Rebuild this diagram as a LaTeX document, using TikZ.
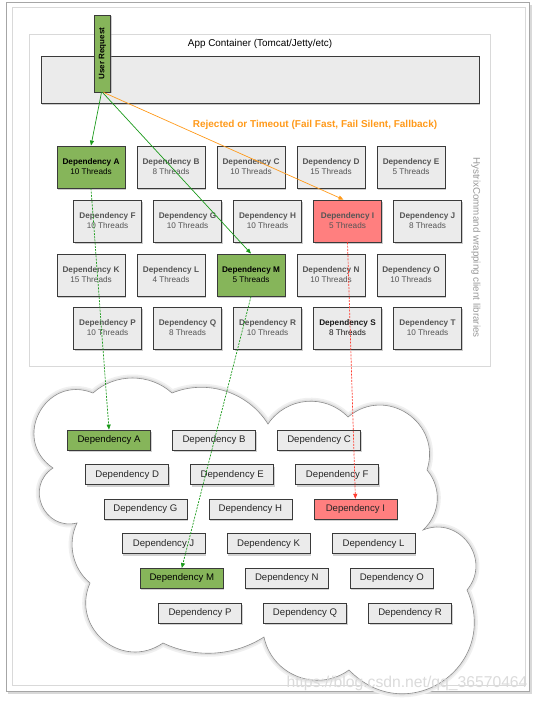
\documentclass[tikz,border=0pt]{standalone}
\usepackage{fontspec}
\setmainfont{Liberation Sans}
\usetikzlibrary{arrows.meta,shadows,calc}
\definecolor{boxgray}{HTML}{EBEBEB}
\definecolor{boxline}{HTML}{3A3A3A}
\definecolor{depgreen}{HTML}{86B55A}
\definecolor{depred}{HTML}{FF7F7F}
\definecolor{arrgreen}{HTML}{1A9A1A}
\definecolor{arrorange}{HTML}{FF9A1A}
\definecolor{arrred}{HTML}{FF3B2F}
\definecolor{txtgray}{HTML}{555555}
\def\cloudpath{(53,468) to[bend left=84,looseness=1.54] (93,393)
  to[bend left=42,looseness=0.97] (172,393)
  to[bend left=40,looseness=0.96] (268,424)
  to[bend left=51,looseness=1.05] (348,417)
  to[bend left=74,looseness=1.34] (427,470)
  to[bend left=44,looseness=1.0] (423,530)
  to[bend left=76,looseness=1.36] (467,590)
  to[bend left=80,looseness=1.5] (349,670)
  to[bend left=57,looseness=1.1] (264,637)
  to[bend left=29,looseness=0.91] (163,643)
  to[bend left=74,looseness=1.34] (90,583)
  to[bend left=38,looseness=0.95] (77,523)
  to[bend left=80,looseness=1.45] (53,468) -- cycle}
\begin{document}
\begin{tikzpicture}[x=1pt,y=-1pt,
  tbox/.style={draw=boxline, line width=0.8pt, fill=boxgray,
    minimum width=68pt, minimum height=42pt, inner sep=0pt, align=center,
    font=\fontsize{8.2}{10}\selectfont, text=txtgray,
    drop shadow={shadow xshift=1pt, shadow yshift=-2pt, opacity=0.4}},
  cbox/.style={draw=boxline, line width=0.8pt, fill=boxgray,
    minimum width=83pt, minimum height=20pt, inner sep=0pt,
    font=\fontsize{9.6}{11}\selectfont, text=black!85,
    drop shadow={shadow xshift=1pt, shadow yshift=-2pt, opacity=0.35}},
  okbox/.style={fill=depgreen, text=black},
  badbox/.style={fill=depred},
  garrow/.style={draw=arrgreen, line width=0.7pt, -{Triangle[length=5pt,width=4pt]}},
  oarrow/.style={draw=arrorange, line width=0.7pt, -{Triangle[length=5pt,width=4pt]}},
  gdash/.style={draw=arrgreen, line width=0.7pt, dash pattern=on 2pt off 1.2pt, -{Triangle[length=5pt,width=4pt]}},
  rdash/.style={draw=arrred, line width=0.7pt, dash pattern=on 2pt off 1.2pt, -{Triangle[length=5pt,width=4pt]}}
]
\useasboundingbox (0,0) rectangle (539,701);
\fill[white] (0,0) rectangle (539,701);
% outer frame
\fill[black!15] (8,5) rectangle (532,694);
\draw[black!35, fill=white, line width=0.8pt] (6,2) rectangle (529,691);
\draw[black!15, line width=0.6pt] (12,7) rectangle (525,685);
% app container
\draw[black!15, line width=0.8pt] (29,34) rectangle (490,366);
\node[font=\fontsize{9.9}{12}\selectfont] (applabel) at (260,44) {App Container (Tomcat/Jetty/etc)};
\node[draw=boxline, line width=0.8pt, fill=boxgray, minimum width=438pt, minimum height=47pt,
  drop shadow={shadow xshift=1pt, shadow yshift=-2pt, opacity=0.4}] (bar) at (260,79.5) {};
\node[draw=boxline, line width=0.8pt, fill=depgreen, rotate=90, minimum width=77pt, minimum height=15.5pt,
  inner sep=0pt, font=\bfseries\fontsize{8}{10}\selectfont,
  drop shadow={shadow xshift=1.5pt, shadow yshift=-1pt, opacity=0.4}] (ur) at (102.5,53.5) {User Request};
\node[font=\bfseries\fontsize{10}{12}\selectfont, text=arrorange] (rej) at (315,125)
  {Rejected or Timeout (Fail Fast, Fail Silent, Fallback)};
\node[rotate=-90, font=\fontsize{9.8}{12}\selectfont, text=black!40] (hys) at (476,247.5)
  {HystrixCommand wrapping client libraries};
% thread pool grid
\node[tbox, okbox] (tA) at (91,167) {\textbf{Dependency A}\\10 Threads};
\node[tbox] (tB) at (171,167) {\textbf{Dependency B}\\8 Threads};
\node[tbox] (tC) at (251,167) {\textbf{Dependency C}\\10 Threads};
\node[tbox] (tD) at (331,167) {\textbf{Dependency D}\\15 Threads};
\node[tbox] (tE) at (411,167) {\textbf{Dependency E}\\5 Threads};
\node[tbox] (tF) at (107.5,221) {\textbf{Dependency F}\\10 Threads};
\node[tbox] (tG) at (187.5,221) {\textbf{Dependency G}\\10 Threads};
\node[tbox] (tH) at (267.5,221) {\textbf{Dependency H}\\10 Threads};
\node[tbox, badbox] (tI) at (347.5,221) {\textbf{Dependency I}\\5 Threads};
\node[tbox] (tJ) at (427.5,221) {\textbf{Dependency J}\\8 Threads};
\node[tbox] (tK) at (91,275) {\textbf{Dependency K}\\15 Threads};
\node[tbox] (tL) at (171,275) {\textbf{Dependency L}\\4 Threads};
\node[tbox, okbox] (tM) at (251,275) {\textbf{Dependency M}\\5 Threads};
\node[tbox] (tN) at (331,275) {\textbf{Dependency N}\\10 Threads};
\node[tbox] (tO) at (411,275) {\textbf{Dependency O}\\10 Threads};
\node[tbox] (tP) at (107.5,328) {\textbf{Dependency P}\\10 Threads};
\node[tbox] (tQ) at (187.5,328) {\textbf{Dependency Q}\\8 Threads};
\node[tbox] (tR) at (267.5,328) {\textbf{Dependency R}\\10 Threads};
\node[tbox, text=black!90] (tS) at (347.5,328) {\textbf{Dependency S}\\8 Threads};
\node[tbox] (tT) at (427.5,328) {\textbf{Dependency T}\\10 Threads};
% cloud
\draw[black!6, line width=7pt, line join=round] \cloudpath;
\draw[black!12, line width=3.5pt, line join=round] \cloudpath;
\draw[black!45, fill=white, line width=0.6pt] \cloudpath;
\node[cbox, okbox] (cA) at (109,440) {Dependency A};
\node[cbox] (cB) at (214,440) {Dependency B};
\node[cbox] (cC) at (319,440) {Dependency C};
\node[cbox] (cD) at (127.2,474.6) {Dependency D};
\node[cbox] (cE) at (232.2,474.6) {Dependency E};
\node[cbox] (cF) at (337.2,474.6) {Dependency F};
\node[cbox] (cG) at (145.4,509.2) {Dependency G};
\node[cbox] (cH) at (250.4,509.2) {Dependency H};
\node[cbox, badbox] (cI) at (355.4,509.2) {Dependency I};
\node[cbox] (cJ) at (163.6,543.8) {Dependency J};
\node[cbox] (cK) at (268.6,543.8) {Dependency K};
\node[cbox] (cL) at (373.6,543.8) {Dependency L};
\node[cbox, okbox] (cM) at (181.8,578.4) {Dependency M};
\node[cbox] (cN) at (286.8,578.4) {Dependency N};
\node[cbox] (cO) at (391.8,578.4) {Dependency O};
\node[cbox] (cP) at (200,613) {Dependency P};
\node[cbox] (cQ) at (305,613) {Dependency Q};
\node[cbox] (cR) at (410,613) {Dependency R};
% connectors
\draw[garrow] ([xshift=-1pt]ur.west) -- (tA.north);
\draw[garrow] (ur.west) -- (tM.north);
\draw[oarrow] ([xshift=1pt]ur.west) -- ([xshift=-4pt]tI.north);
\draw[gdash] (tA.south) -- (cA.north);
\draw[gdash] (tM.south) -- (cM.north);
\draw[rdash] (tI.south) -- (cI.north);
% watermark
\node[font=\fontsize{15.7}{18}\selectfont, text=black!14] (wm) at (407,683) {https://blog.csdn.net/qq\_36570464};
\end{tikzpicture}
\end{document}
